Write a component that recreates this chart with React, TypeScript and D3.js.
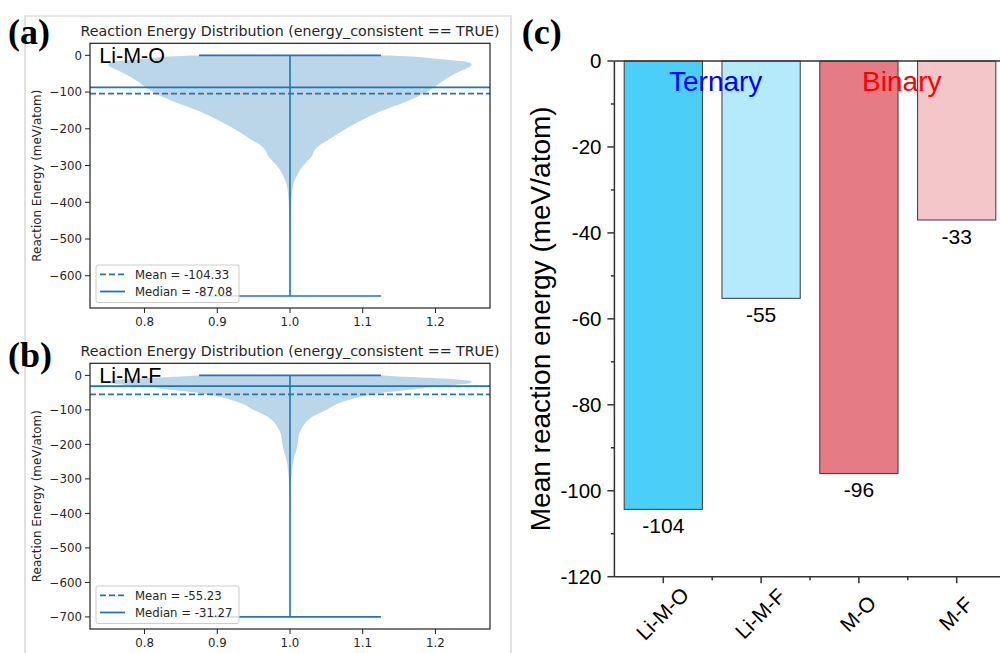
import React from "react";
import * as d3 from "d3";

// ---------- Data ----------
const violinTitle = "Reaction Energy Distribution (energy_consistent == TRUE)";
const violinXTicks = [0.8, 0.9, 1.0, 1.1, 1.2];

// Panel (a): Li-M-O   [value, half-width]
const limoProfile: [number, number][] = [
  [0, 0.12], [-2, 0.15], [-5, 0.18], [-10, 0.205], [-15, 0.232], [-21, 0.248], [-26, 0.25],
  [-35, 0.243], [-52, 0.225], [-70, 0.21], [-89, 0.197], [-112, 0.176], [-130, 0.155],
  [-148, 0.13], [-171, 0.104], [-193, 0.083], [-211, 0.068], [-228, 0.055], [-243, 0.042],
  [-258, 0.034], [-275, 0.03], [-292, 0.022], [-311, 0.014], [-330, 0.009], [-348, 0.005],
  [-380, 0.0025], [-429, 0.0012], [-470, 0.0006], [-550, 0.0003], [-655, 0.0002],
];
const limoStats = { min: -655, max: 0, mean: -104.33, median: -87.08 };
const limoYTicks = [0, -100, -200, -300, -400, -500, -600];

// Panel (b): Li-M-F
const limfProfile: [number, number][] = [
  [0, 0.13], [-3, 0.15], [-7, 0.19], [-12, 0.23], [-18, 0.25], [-22, 0.248], [-28, 0.225],
  [-36, 0.188], [-44, 0.155], [-51, 0.126], [-60, 0.102], [-70, 0.083], [-80, 0.068],
  [-100, 0.05], [-115, 0.035], [-133, 0.023], [-150, 0.017], [-167, 0.013], [-190, 0.011],
  [-215, 0.009], [-235, 0.006], [-254, 0.004], [-280, 0.0025], [-302, 0.0015],
  [-350, 0.0007], [-450, 0.0003], [-700, 0.0002],
];
const limfStats = { min: -700, max: 0, mean: -55.23, median: -31.27 };
const limfYTicks = [0, -100, -200, -300, -400, -500, -600, -700];

// Panel (c)
const barCats = ["Li-M-O", "Li-M-F", "M-O", "M-F"];
const barValues = [-104.33, -55.23, -96.0, -37.0];
const barLabels = ["-104", "-55", "-96", "-33"];
const barColors = ["#4BCFF9", "#B4EAFB", "#E57B85", "#F4C5C9"];
const barYTicks = [0, -20, -40, -60, -80, -100, -120];
const barYMinor = [-10, -30, -50, -70, -90, -110];

const C0 = "#1f77b4";
const fmtMinus = (v: number) => (v < 0 ? "\u2212" + Math.abs(v) : String(v));

function Violin({ top, bottom, yDomain, profile, stats, yTicks, tag, letter, letterY }: any) {
  const left = 90, right = 490;
  const x = d3.scaleLinear().domain([0.725, 1.275]).range([left, right]);
  const y = d3.scaleLinear().domain(yDomain).range([bottom, top]);
  const area = d3
    .area<[number, number]>()
    .x0((d) => x(1 - d[1]))
    .x1((d) => x(1 + d[1]))
    .y((d) => y(d[0]))
    .curve(d3.curveMonotoneY);
  const font = "'DejaVu Sans', sans-serif";
  const txt = "#262626";
  const legX = 96, legY = bottom - 43;
  return (
    <g>
      <text x={8} y={letterY} fontFamily="'Liberation Serif', 'Times New Roman', serif" fontWeight="bold" fontSize={36} fill="#000">{letter}</text>
      <text x={(left + right) / 2} y={top - 7.5} textAnchor="middle" fontFamily={font} fontSize={14.2} fill={txt}>{violinTitle}</text>
      <path d={area(profile) || ""} fill={C0} fillOpacity={0.3} />
      {/* violin extrema and centre line */}
      <line x1={x(1)} x2={x(1)} y1={y(stats.max)} y2={y(stats.min)} stroke={C0} strokeWidth={1.6} />
      <line x1={x(0.875)} x2={x(1.125)} y1={y(stats.max)} y2={y(stats.max)} stroke={C0} strokeWidth={1.6} />
      <line x1={x(0.875)} x2={x(1.125)} y1={y(stats.min)} y2={y(stats.min)} stroke={C0} strokeWidth={1.6} />
      {/* mean / median */}
      <line x1={left} x2={right} y1={y(stats.mean)} y2={y(stats.mean)} stroke={C0} strokeWidth={1.8} strokeDasharray="6,3" />
      <line x1={left} x2={right} y1={y(stats.median)} y2={y(stats.median)} stroke={C0} strokeWidth={1.8} />
      {/* frame */}
      <rect x={left} y={top} width={right - left} height={bottom - top} fill="none" stroke="#222" strokeWidth={1.2} />
      {yTicks.map((t: number) => (
        <g key={t}>
          <line x1={left - 5} x2={left} y1={y(t)} y2={y(t)} stroke="#222" strokeWidth={1} />
          <text x={left - 8} y={y(t)} dy="0.36em" textAnchor="end" fontFamily={font} fontSize={11.8} fill={txt}>{fmtMinus(t)}</text>
        </g>
      ))}
      {violinXTicks.map((t) => (
        <g key={t}>
          <line x1={x(t)} x2={x(t)} y1={bottom} y2={bottom + 5} stroke="#222" strokeWidth={1} />
          <text x={x(t)} y={bottom + 17.5} textAnchor="middle" fontFamily={font} fontSize={11.8} fill={txt}>{t.toFixed(1)}</text>
        </g>
      ))}
      <text transform={`translate(40.5,${(top + bottom) / 2}) rotate(-90)`} textAnchor="middle" fontFamily={font} fontSize={11.9} fill={txt}>Reaction Energy (meV/atom)</text>
      <text x={99.3} y={y(0) + 7.6} fontFamily="'Liberation Sans', Arial, sans-serif" fontSize={21.5} fill="#000">{tag}</text>
      {/* legend */}
      <rect x={legX} y={legY} width={143} height={37.5} rx={2} fill="#fff" fillOpacity={0.8} stroke="#cccccc" strokeWidth={1} />
      <line x1={legX + 4} x2={legX + 29} y1={legY + 9.3} y2={legY + 9.3} stroke={C0} strokeWidth={1.8} strokeDasharray="6,3" />
      <text x={legX + 39} y={legY + 13.5} fontFamily={font} fontSize={11.7} fill={txt}>{`Mean = ${stats.mean.toFixed(2)}`}</text>
      <line x1={legX + 4} x2={legX + 29} y1={legY + 26.5} y2={legY + 26.5} stroke={C0} strokeWidth={1.8} />
      <text x={legX + 39} y={legY + 30.7} fontFamily={font} fontSize={11.7} fill={txt}>{`Median = ${stats.median.toFixed(2)}`}</text>
    </g>
  );
}

function Bars() {
  const x = d3.scaleBand().domain(barCats).range([614.4, 1005.6]).paddingInner(0.2).paddingOuter(0.1);
  const y = d3.scaleLinear().domain([-120, 0]).range([576.7, 61]);
  const font = "'Liberation Sans', Arial, sans-serif";
  const ax = "#333";
  const step = x.step();
  const x0 = 614.4;
  const minorX = barCats.slice(0, -1).map((c) => (x(c) as number) + x.bandwidth() + (step - x.bandwidth()) / 2);
  const mid01 = ((x(barCats[0]) as number) + (x(barCats[1]) as number)) / 2 + x.bandwidth() / 2;
  const mid23 = ((x(barCats[2]) as number) + (x(barCats[3]) as number)) / 2 + x.bandwidth() / 2;
  return (
    <g>
      <text x={521.7} y={43.5} fontFamily="'Liberation Serif', 'Times New Roman', serif" fontWeight="bold" fontSize={36} fill="#000">(c)</text>
      {barCats.map((c, i) => {
        const v = barValues[i];
        return (
          <g key={c}>
            <rect x={x(c)} y={y(0)} width={x.bandwidth()} height={y(v) - y(0)} fill={barColors[i]} stroke="#3a3a3a" strokeWidth={1} />
            <text x={(x(c) as number) + x.bandwidth() / 2} y={y(v) + 23.5} textAnchor="middle" fontFamily={font} fontSize={21} fill="#000">{barLabels[i]}</text>
          </g>
        );
      })}
      <text x={mid01 + 3.5} y={90.5} textAnchor="middle" fontFamily={font} fontSize={28} fill="#0000FF">Ternary</text>
      <text x={mid23 - 6} y={90.5} textAnchor="middle" fontFamily={font} fontSize={28} fill="#FF0000">Binary</text>
      {/* axes */}
      <line x1={x0} x2={x0} y1={y(0)} y2={y(-120)} stroke={ax} strokeWidth={1.5} />
      <line x1={x0} x2={1005} y1={y(-120)} y2={y(-120)} stroke={ax} strokeWidth={1.5} />
      <line x1={x0} x2={1005} y1={y(0)} y2={y(0)} stroke={ax} strokeWidth={1.5} />
      {barYTicks.map((t) => (
        <g key={t}>
          <line x1={x0 - 7} x2={x0} y1={y(t)} y2={y(t)} stroke={ax} strokeWidth={1.5} />
          <text x={601.5} y={y(t)} dy="0.35em" textAnchor="end" fontFamily={font} fontSize={20.5} fill="#000">{String(t)}</text>
        </g>
      ))}
      {barYMinor.map((t) => (
        <line key={t} x1={x0 - 3.5} x2={x0} y1={y(t)} y2={y(t)} stroke={ax} strokeWidth={1.5} />
      ))}
      {barCats.map((c) => {
        const cx = (x(c) as number) + x.bandwidth() / 2;
        return (
          <g key={c}>
            <line x1={cx} x2={cx} y1={y(-120)} y2={y(-120) + 6.5} stroke={ax} strokeWidth={1.5} />
            <text transform={`translate(${cx - 1},613.5) rotate(-45)`} textAnchor="middle" dominantBaseline="central" fontFamily={font} fontSize={21} fill="#000">{c}</text>
          </g>
        );
      })}
      {minorX.map((mx, i) => (
        <line key={i} x1={mx} x2={mx} y1={y(-120)} y2={y(-120) + 3.5} stroke={ax} strokeWidth={1.5} />
      ))}
      <text transform={`translate(550,318.8) rotate(-90)`} textAnchor="middle" fontFamily={font} fontSize={28} fill="#000">Mean reaction energy (meV/atom)</text>
    </g>
  );
}

export default function App() {
  return (
    <svg width={1000} height={653} style={{ position: "absolute", left: 0, top: 0, background: "#fff" }}>
      <rect x={0} y={0} width={1000} height={653} fill="#fff" />
      {/* screenshot frame around (a)/(b) */}
      <path d="M25,653 V16 H511 V653" fill="none" stroke="#cfcfcf" strokeWidth={1.2} />
      <Violin top={43.3} bottom={308} yDomain={[-687.75, 32.75]} profile={limoProfile} stats={limoStats} yTicks={limoYTicks} tag="Li-M-O" letter="(a)" letterY={43.5} />
      <Violin top={363.3} bottom={629} yDomain={[-735, 35]} profile={limfProfile} stats={limfStats} yTicks={limfYTicks} tag="Li-M-F" letter="(b)" letterY={366.5} />
      <Bars />
    </svg>
  );
}
